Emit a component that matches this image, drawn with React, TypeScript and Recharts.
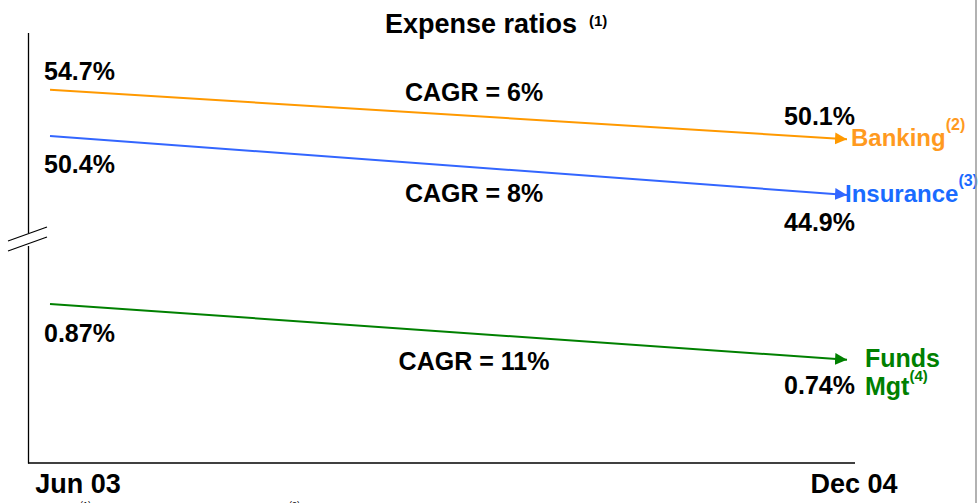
import React from 'react';
import { LineChart, Line, XAxis, YAxis, LabelList } from 'recharts';

// ---- data ----
const periods = ['Jun 03', 'Dec 04'];
const banking = [54.7, 50.1];
const insurance = [50.4, 44.9];
const fundsMgt = [0.87, 0.74];
const seriesNames = ['Banking', 'Insurance', 'Funds Mgt'];
const seriesNotes = ['(2)', '(3)', '(4)'];
const cagrLabels = ['CAGR = 6%', 'CAGR = 8%', 'CAGR = 11%'];
const titleText = 'Expense ratios';
const titleNote = '(1)';

const data = periods.map((p, i) => ({
  period: p,
  banking: banking[i],
  insurance: insurance[i],
  funds: fundsMgt[i],
}));

const FONT = '"Liberation Sans", Arial, Helvetica, sans-serif';
const W = 980;
const H = 503;

type Cfg = {
  key: string;
  axis: string;
  line: string;
  text: string;
  decimals: number;
  startDy: number;
  endDy: number;
  nameDx: number;
  nameDy: number;
  nameIdx: number;
};

const series: Cfg[] = [
  { key: 'banking', axis: 'upper', line: '#FF9900', text: '#FF9A1F', decimals: 1, startDy: -10, endDy: -14, nameDx: 4, nameDy: 7, nameIdx: 0 },
  { key: 'insurance', axis: 'upper', line: '#3366FF', text: '#1A6BFF', decimals: 1, startDy: 37, endDy: 36, nameDx: -2, nameDy: 7, nameIdx: 1 },
  { key: 'funds', axis: 'lower', line: '#008000', text: '#008000', decimals: 2, startDy: 38, endDy: 34, nameDx: 18, nameDy: 7, nameIdx: 2 },
];

const makeLabel = (c: Cfg) => (props: any) => {
  const { x, y, value, index } = props;
  const isStart = index === 0 || (index === undefined && x < 400);
  const txt = `${Number(value).toFixed(c.decimals)}%`;
  if (isStart) {
    return (
      <text x={x - 6} y={y + c.startDy} fontFamily={FONT} fontWeight="bold" fontSize={25} fill="#000" textAnchor="start">
        {txt}
      </text>
    );
  }
  const name = seriesNames[c.nameIdx];
  const note = seriesNotes[c.nameIdx];
  const parts = name.split(' ');
  return (
    <g>
      <text x={x + 8} y={y + c.endDy} fontFamily={FONT} fontWeight="bold" fontSize={25} fill="#000" textAnchor="end">
        {txt}
      </text>
      {c.key === 'funds' ? (
        <text x={x + c.nameDx} y={y + c.nameDy} fontFamily={FONT} fontWeight="bold" fontSize={25} fill={c.text}>
          <tspan x={x + c.nameDx}>{parts[0]}</tspan>
          <tspan x={x + c.nameDx} dy={28}>{parts[1]}</tspan>
          <tspan dy={-14} fontSize={15}>{note}</tspan>
        </text>
      ) : (
        <text x={x + c.nameDx} y={y + c.nameDy} fontFamily={FONT} fontWeight="bold" fontSize={24} fill={c.text}>
          {name}
          <tspan dy={-16} fontSize={16}>{note}</tspan>
        </text>
      )}
    </g>
  );
};

const tickShift = [28, 7];
const XTick = (props: any) => {
  const { x, y, payload, index } = props;
  const i = index ?? periods.indexOf(payload.value);
  return (
    <text x={x + (tickShift[i] ?? 0)} y={y + 22} fontFamily={FONT} fontWeight="bold" fontSize={27} fill="#000" textAnchor="middle">
      {payload.value}
    </text>
  );
};

export default function App() {
  return (
    <div style={{ position: 'absolute', left: 0, top: 0, width: W, height: H, background: '#fff' }}>
      <LineChart width={W} height={H} data={data} margin={{ top: 33, right: 125, bottom: 0, left: 28 }}>
        <defs>
          {series.map((s) => (
            <marker
              key={s.key}
              id={`arrow-${s.key}`}
              markerUnits="userSpaceOnUse"
              markerWidth={13}
              markerHeight={13}
              refX={12}
              refY={6}
              orient="auto"
            >
              <path d="M0,0 L12,6 L0,12 z" fill={s.line} />
            </marker>
          ))}
        </defs>
        <XAxis
          dataKey="period"
          scale="point"
          padding={{ left: 22, right: 8 }}
          height={40}
          tickLine={false}
          axisLine={{ stroke: '#000', strokeWidth: 1.5 }}
          tick={<XTick />}
          interval={0}
        />
        <YAxis yAxisId="upper" domain={[19.9, 60.0]} allowDataOverflow hide />
        <YAxis yAxisId="lower" domain={[0.5, 1.5]} allowDataOverflow hide />
        {series.map((s) => (
          <Line
            key={s.key}
            yAxisId={s.axis}
            dataKey={s.key}
            stroke={s.line}
            strokeWidth={2}
            dot={false}
            activeDot={false}
            markerEnd={`url(#arrow-${s.key})`}
            isAnimationActive={false}
          >
            <LabelList dataKey={s.key} content={makeLabel(s)} />
          </Line>
        ))}
      </LineChart>
      <svg width={W} height={H} style={{ position: 'absolute', left: 0, top: 0, pointerEvents: 'none' }}>
        {/* broken y axis */}
        <line x1={28.5} y1={33} x2={28.5} y2={233} stroke="#000" strokeWidth={1.3} />
        <line x1={28.5} y1={246} x2={28.5} y2={463.5} stroke="#000" strokeWidth={1.3} />
        <line x1={8} y1={241} x2={47} y2={227} stroke="#000" strokeWidth={1.2} />
        <line x1={8} y1={251} x2={47} y2={237} stroke="#000" strokeWidth={1.2} />
        {/* slide border */}
        <line x1={976} y1={0} x2={976} y2={H} stroke="#999" strokeWidth={1.5} />
        {/* title */}
        <text x={481} y={33} fontFamily={FONT} fontWeight="bold" fontSize={27} fill="#000" textAnchor="middle">
          {titleText}
        </text>
        <text x={589} y={26} fontFamily={FONT} fontWeight="bold" fontSize={15} fill="#000">
          {titleNote}
        </text>
        {/* CAGR annotations */}
        <text x={474} y={101} fontFamily={FONT} fontWeight="bold" fontSize={25} fill="#000" textAnchor="middle">{cagrLabels[0]}</text>
        <text x={474} y={202} fontFamily={FONT} fontWeight="bold" fontSize={25} fill="#000" textAnchor="middle">{cagrLabels[1]}</text>
        <text x={474} y={370} fontFamily={FONT} fontWeight="bold" fontSize={25} fill="#000" textAnchor="middle">{cagrLabels[2]}</text>
        {/* cut-off footnote marks */}
        <text x={80} y={508} fontFamily={FONT} fontSize={9} fill="#000">(1)</text>
        <text x={289} y={508} fontFamily={FONT} fontSize={9} fill="#000">(2)</text>
      </svg>
    </div>
  );
}
